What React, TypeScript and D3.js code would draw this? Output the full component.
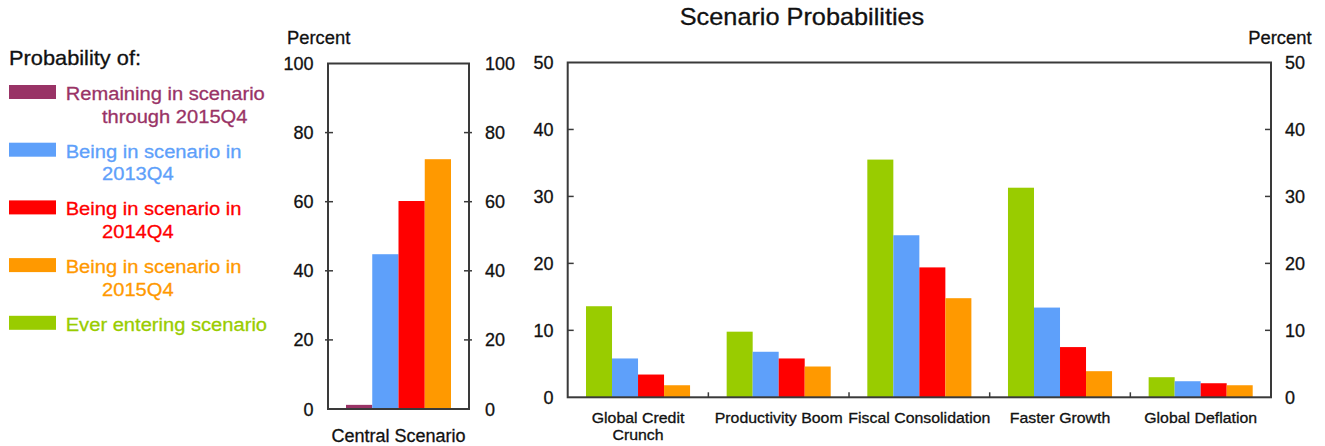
import React from "react";
import * as d3 from "d3";

// ---- data ----
const centralCategory = ["Central Scenario"];
const centralRemaining = [1.2];
const central2013Q4 = [44.8];
const central2014Q4 = [60.2];
const central2015Q4 = [72.3];

const scenarios = ["Global Credit Crunch", "Productivity Boom", "Fiscal Consolidation", "Faster Growth", "Global Deflation"];
const scenarioLabelLines = [["Global Credit", "Crunch"], ["Productivity Boom"], ["Fiscal Consolidation"], ["Faster Growth"], ["Global Deflation"]];
const everEntering = [13.6, 9.8, 35.5, 31.3, 3.0];
const in2013Q4 = [5.8, 6.8, 24.2, 13.4, 2.4];
const in2014Q4 = [3.4, 5.8, 19.4, 7.5, 2.1];
const in2015Q4 = [1.8, 4.6, 14.8, 3.9, 1.8];

const leftTicks = [0, 20, 40, 60, 80, 100];
const rightTicks = [0, 10, 20, 30, 40, 50];

const legendKeys = ["remaining", "y2013", "y2014", "y2015", "ever"];
const legendLines = [
  ["Remaining in scenario", "through 2015Q4"],
  ["Being in scenario in", "2013Q4"],
  ["Being in scenario in", "2014Q4"],
  ["Being in scenario in", "2015Q4"],
  ["Ever entering scenario"],
];

const colors: Record<string, string> = {
  remaining: "#993366",
  y2013: "#5ea0fa",
  y2014: "#ff0000",
  y2015: "#ff9900",
  ever: "#99cc00",
};

const FONT = "'Liberation Sans', Arial, Helvetica, sans-serif";
const AXIS = "#3a3a3a";

function T({ x, y, size, anchor = "start", sx = 1, fill = "#111", children }: any) {
  return (
    <text
      transform={`translate(${x},${y}) scale(${sx},1)`}
      fontSize={size}
      fontFamily={FONT}
      textAnchor={anchor}
      fill={fill}
      stroke={fill}
      strokeWidth={0.3}
    >
      {children}
    </text>
  );
}

export default function App() {
  const W = 1325, H = 446;

  // Left panel
  const L = { x0: 328, x1: 469, y0: 63.5, y1: 409 };
  const yL = d3.scaleLinear().domain([0, 100]).range([L.y1, L.y0]);
  const xL = d3.scaleBand().domain(centralCategory).range([L.x0, L.x1]).padding(0);
  const leftSeries = [
    { key: "remaining", values: centralRemaining },
    { key: "y2013", values: central2013Q4 },
    { key: "y2014", values: central2014Q4 },
    { key: "y2015", values: central2015Q4 },
  ];
  const innerL = d3.scaleBand().domain(leftSeries.map((s) => s.key)).range([18, xL.bandwidth() - 18]).padding(0);

  // Right panel
  const R = { x0: 567.7, x1: 1271, y0: 62.5, y1: 397.3 };
  const yR = d3.scaleLinear().domain([0, 50]).range([R.y1, R.y0]);
  const xR = d3.scaleBand().domain(scenarios).range([R.x0, R.x1]).padding(0);
  const rightSeries = [
    { key: "ever", values: everEntering },
    { key: "y2013", values: in2013Q4 },
    { key: "y2014", values: in2014Q4 },
    { key: "y2015", values: in2015Q4 },
  ];
  const innerR = d3.scaleBand().domain(rightSeries.map((s) => s.key)).range([18.3, xR.bandwidth() - 18.3]).padding(0);

  return (
    <svg width={W} height={H} style={{ position: "absolute", left: 0, top: 0, background: "#fff" }}>
      {/* Legend */}
      <T x={9} y={64.5} size={20} sx={1.09}>Probability of:</T>
      {legendKeys.map((k, i) => {
        const top = 85 + i * 57.7;
        return (
          <g key={k}>
            <rect x={9} y={top} width={47} height={14} fill={colors[k]} />
            {legendLines[i].map((line, j) => (
              <T key={j} x={j === 0 ? 65.7 : 102} y={top + 15 + j * 22.5} size={19} sx={1.06} fill={colors[k]}>
                {line}
              </T>
            ))}
          </g>
        );
      })}

      {/* Left panel */}
      <T x={287} y={44} size={18} sx={1.02}>Percent</T>
      {leftSeries.map((s) =>
        centralCategory.map((c, ci) => (
          <rect
            key={s.key + c}
            x={(xL(c) as number) + (innerL(s.key) as number)}
            y={yL(s.values[ci])}
            width={innerL.bandwidth()}
            height={yL(0) - yL(s.values[ci])}
            fill={colors[s.key]}
          />
        ))
      )}
      <rect x={L.x0} y={L.y0} width={L.x1 - L.x0} height={L.y1 - L.y0} fill="none" stroke={AXIS} strokeWidth={2} />
      {leftTicks.map((t) => (
        <g key={t}>
          {t > 0 && t < 100 && (
            <>
              <line x1={L.x0 - 3} x2={L.x0 + 5} y1={yL(t)} y2={yL(t)} stroke={AXIS} strokeWidth={1.5} />
              <line x1={L.x1 - 5} x2={L.x1 + 3} y1={yL(t)} y2={yL(t)} stroke={AXIS} strokeWidth={1.5} />
            </>
          )}
          <T x={313.5} y={yL(t) + 6.5} size={18} anchor="end">{t}</T>
          <T x={485} y={yL(t) + 6.5} size={18}>{t}</T>
        </g>
      ))}
      {centralCategory.map((c) => (
        <T key={c} x={(xL(c) as number) + xL.bandwidth() / 2} y={441.5} size={18} anchor="middle">{c}</T>
      ))}

      {/* Right panel */}
      <T x={802} y={25} size={23} sx={1.1} anchor="middle">Scenario Probabilities</T>
      <T x={1311.5} y={44} size={18} sx={1.02} anchor="end">Percent</T>
      {rightSeries.map((s) =>
        scenarios.map((c, ci) => (
          <rect
            key={s.key + c}
            x={(xR(c) as number) + (innerR(s.key) as number)}
            y={yR(s.values[ci])}
            width={innerR.bandwidth()}
            height={yR(0) - yR(s.values[ci])}
            fill={colors[s.key]}
          />
        ))
      )}
      <rect x={R.x0} y={R.y0} width={R.x1 - R.x0} height={R.y1 - R.y0} fill="none" stroke={AXIS} strokeWidth={2} />
      {rightTicks.map((t) => (
        <g key={t}>
          {t > 0 && t < 50 && (
            <>
              <line x1={R.x0} x2={R.x0 + 6} y1={yR(t)} y2={yR(t)} stroke={AXIS} strokeWidth={1.5} />
              <line x1={R.x1 - 6} x2={R.x1} y1={yR(t)} y2={yR(t)} stroke={AXIS} strokeWidth={1.5} />
            </>
          )}
          <T x={553.5} y={yR(t) + 6.5} size={18} anchor="end">{t}</T>
          <T x={1285} y={yR(t) + 6.5} size={18}>{t}</T>
        </g>
      ))}
      {scenarios.slice(1).map((c) => (
        <line key={c} x1={xR(c) as number} x2={xR(c) as number} y1={R.y1 - 5} y2={R.y1} stroke={AXIS} strokeWidth={1.5} />
      ))}
      {scenarios.map((c, ci) =>
        scenarioLabelLines[ci].map((line, j) => (
          <T key={c + j} x={(xR(c) as number) + xR.bandwidth() / 2} y={423 + j * 17} size={15} sx={1.06} anchor="middle">
            {line}
          </T>
        ))
      )}
    </svg>
  );
}
